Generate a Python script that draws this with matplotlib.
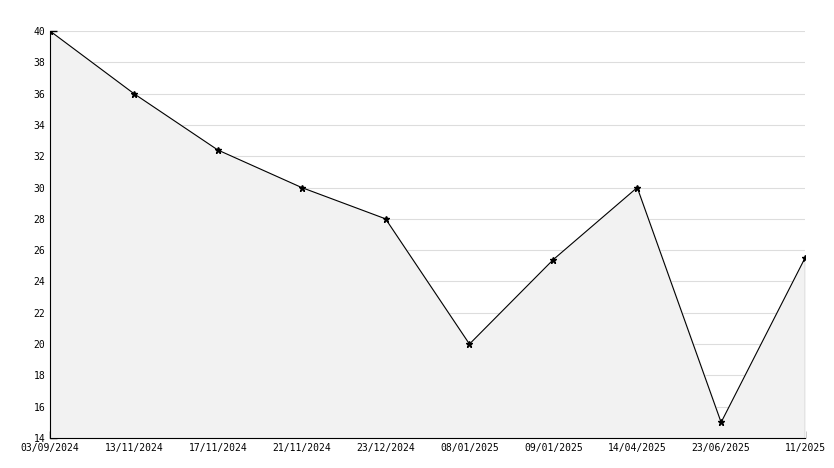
import matplotlib
matplotlib.use("Agg")
import matplotlib.pyplot as plt

dates = ["03/09/2024", "13/11/2024", "17/11/2024", "21/11/2024", "23/12/2024",
         "08/01/2025", "09/01/2025", "14/04/2025", "23/06/2025", "11/2025"]
values = [40, 36, 32.4, 30, 28, 20, 25.4, 30, 15, 25.5]

plt.rcParams['font.family'] = 'DejaVu Sans Mono'
fig = plt.figure(figsize=(8.34, 4.68), dpi=100)
ax = fig.add_axes([50/834, 30/468, 755/834, 407/468])

x = list(range(len(values)))
ax.fill_between(x, values, 14, color="#f2f2f2", zorder=1)
ax.plot(x, values, color="black", lw=0.8, marker="*", ms=5, zorder=3)
ax.vlines(x[-1], 14, values[-1], color="black", lw=0.8, zorder=2)

ax.set_xlim(0, len(values) - 1)
ax.set_ylim(14, 40)
ax.set_yticks(range(14, 41, 2))
ax.set_yticks(range(15, 40, 2), minor=True)
ax.set_xticks(x)
ax.set_xticklabels(dates)
ax.yaxis.grid(True, color="#dddddd", lw=0.8, zorder=0)
ax.set_axisbelow(True)
ax.tick_params(direction="in", labelsize=7, length=5, width=1)
ax.tick_params(which="minor", direction="in", length=3, width=1)
for s in ["top", "right"]:
    ax.spines[s].set_visible(False)
ax.spines["right"].set_visible(False)

fig.savefig("out.png")
